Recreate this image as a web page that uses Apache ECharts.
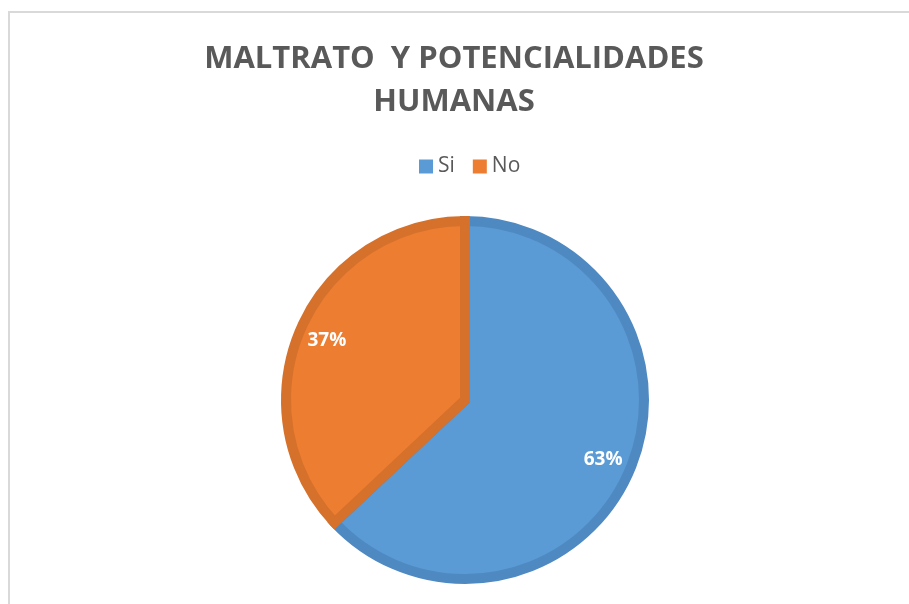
<!DOCTYPE html>
<html>
<head>
<meta charset="utf-8">
<script src="https://cdn.jsdelivr.net/npm/echarts@6/dist/echarts.min.js"></script>
<style>
  html, body { margin: 0; padding: 0; background: #fff; }
  #chart { width: 909px; height: 604px; }
</style>
</head>
<body>
<div id="chart"></div>
<script>
const TITLE = 'MALTRATO  Y POTENCIALIDADES\nHUMANAS'
const CATEGORIES = ['Si', 'No']
const VALUES = [63, 37]
const FILLS = ['#5B9BD5', '#ED7D31']
const EDGES = ['#4E89C2', '#D6712B']

const FONT = '"Open Sans", "Noto Sans", sans-serif'

const chart = echarts.init(document.getElementById('chart'), null, { renderer: 'canvas' })

const pieData = CATEGORIES.map((name, i) => ({
  name,
  value: VALUES[i],
  itemStyle: { color: FILLS[i], borderColor: EDGES[i] },
}))

// percentages sit at ~80% of the radius, so use an invisible ring just for the labels
const labelData = CATEGORIES.map((name, i) => ({ name, value: VALUES[i] }))

chart.setOption({
  backgroundColor: '#fff',
  animation: false,
  graphic: [{
    type: 'rect', silent: true,
    shape: { x: 9, y: 12, width: 1200, height: 1200 },
    style: { fill: 'none', stroke: '#d9d9d9', lineWidth: 2 },
  }],
  title: {
    text: TITLE,
    left: 449, top: 33, textAlign: 'center',
    textStyle: { color: '#595959', fontSize: 31, fontWeight: 'bold', fontFamily: FONT, lineHeight: 43 },
  },
  legend: {
    data: CATEGORIES,
    left: 414, top: 151,
    itemWidth: 14, itemHeight: 14, itemGap: 18,
    icon: 'rect',
    itemStyle: { borderWidth: 0 },
    textStyle: { color: '#595959', fontSize: 21, fontFamily: FONT, padding: [0, 0, 0, 0] },
  },
  series: [
    {
      type: 'pie',
      center: [465, 400],
      radius: [0, 179],
      startAngle: 90,
      clockwise: true,
      silent: true,
      label: { show: false },
      labelLine: { show: false },
      itemStyle: { borderWidth: 10, borderJoin: 'miter' },
      data: pieData,
    },
    {
      type: 'pie',
      center: [465, 400],
      radius: [112, 183],
      startAngle: 90,
      clockwise: true,
      silent: true,
      legendHoverLink: false,
      itemStyle: { color: 'rgba(0,0,0,0)', borderWidth: 0 },
      label: {
        show: true, position: 'inside',
        formatter: (p) => p.value + '%',
        color: '#fff', fontSize: 19, fontWeight: 'bold', fontFamily: FONT,
      },
      labelLine: { show: false },
      data: labelData,
    },
  ],
})
</script>
</body>
</html>
